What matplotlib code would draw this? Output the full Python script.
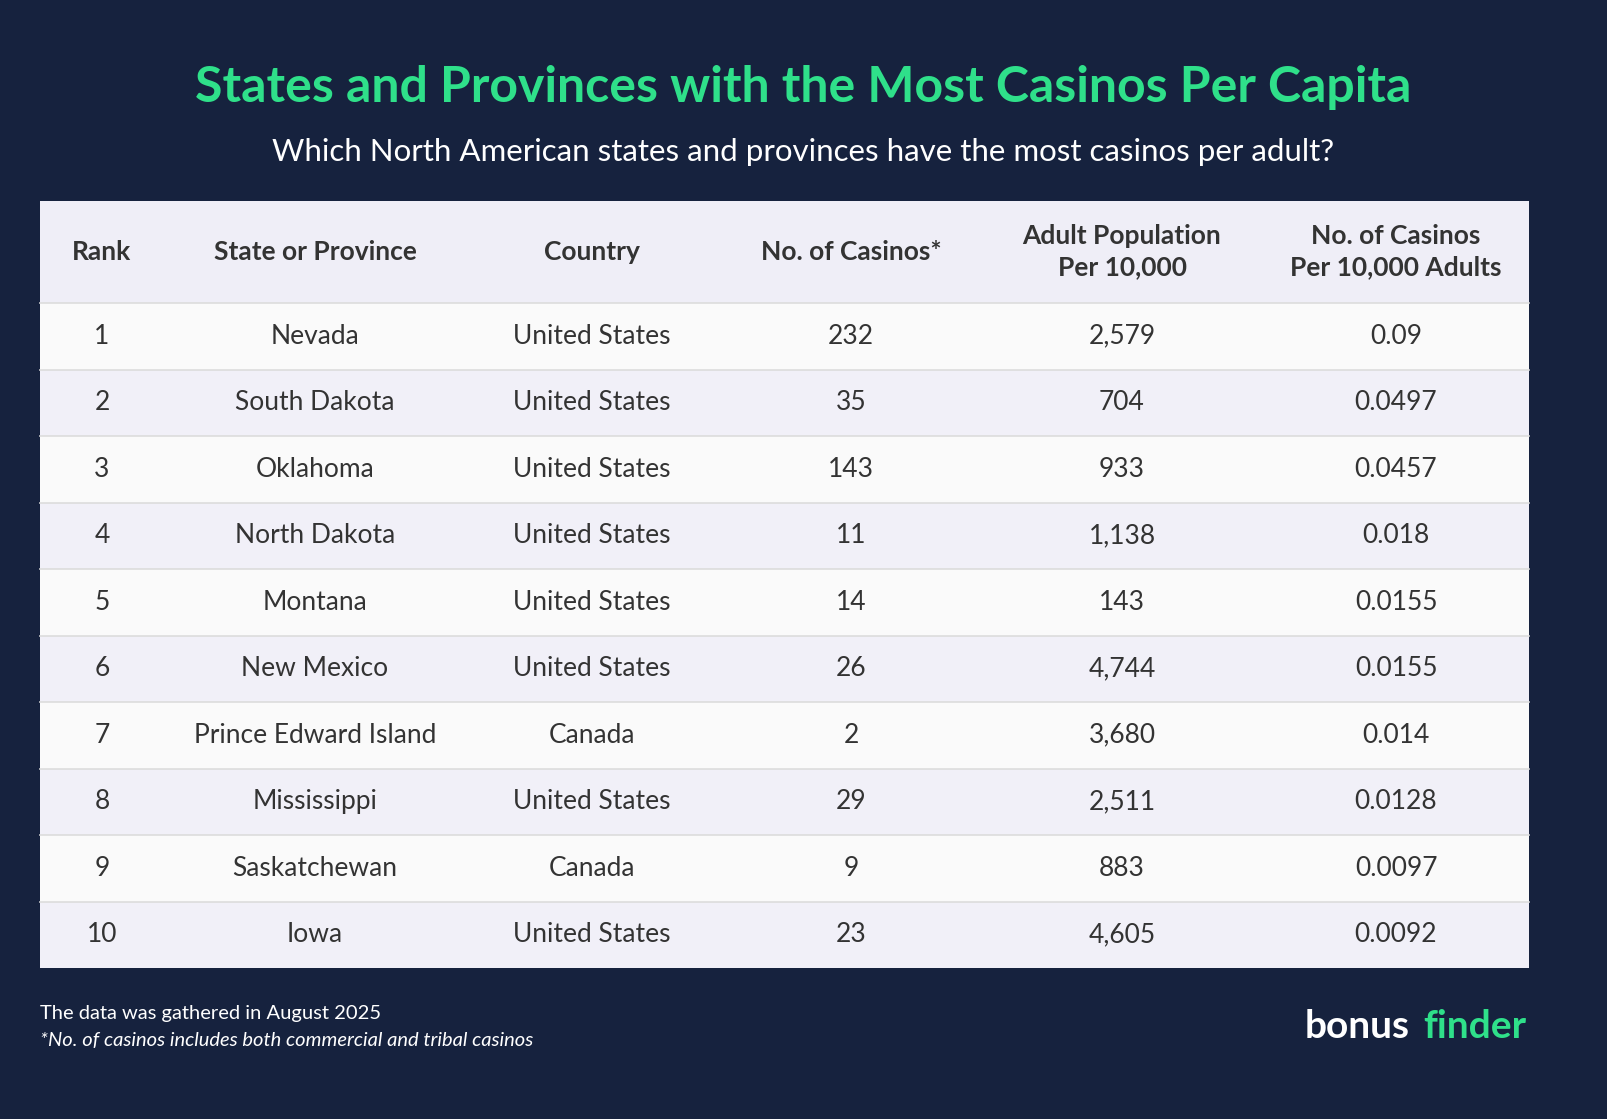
import matplotlib
matplotlib.use("Agg")
import matplotlib.pyplot as plt
from matplotlib.patches import Rectangle

ranks = ["1","2","3","4","5","6","7","8","9","10"]
states = ["Nevada","South Dakota","Oklahoma","North Dakota","Montana","New Mexico",
          "Prince Edward Island","Mississippi","Saskatchewan","Iowa"]
countries = ["United States"]*6 + ["Canada","United States","Canada","United States"]
casinos = ["232","35","143","11","14","26","2","29","9","23"]
adult_pop = ["2,579","704","933","1,138","143","4,744","3,680","2,511","883","4,605"]
per_10k = ["0.09","0.0497","0.0457","0.018","0.0155","0.0155","0.014","0.0128","0.0097","0.0092"]
headers = ["Rank","State or Province","Country","No. of Casinos*","Adult Population\nPer 10,000",
           "No. of Casinos\nPer 10,000 Adults"]

BG = "#16223e"; GREEN = "#2fe08a"; TXT = "#333333"
FONT = "Lato"
fig = plt.figure(figsize=(16.07, 11.19), dpi=100, facecolor=BG)
ax = fig.add_axes([0, 0, 1, 1]); ax.set_xlim(0, 1607); ax.set_ylim(1119, 0); ax.axis("off")

ax.text(803, 88, "States and Provinces with the Most Casinos Per Capita", color=GREEN,
        fontsize=36, fontweight="bold", ha="center", va="center", family=FONT)
ax.text(803, 152, "Which North American states and provinces have the most casinos per adult?",
        color="white", fontsize=22.5, ha="center", va="center", family=FONT)

x0, x1 = 40, 1529
hy0, hy1 = 201, 303
rh = 66.5
colx = [102, 315, 592, 851, 1122, 1396]
ax.add_patch(Rectangle((x0, hy0), x1-x0, hy1-hy0, color="#efeef7", lw=0))
for c, h in zip(colx, headers):
    ax.text(c, (hy0+hy1)/2, h, ha="center", va="center", fontsize=19, fontweight="bold",
            color=TXT, family=FONT, linespacing=1.35)
cols = [ranks, states, countries, casinos, adult_pop, per_10k]
for i in range(len(ranks)):
    y = hy1 + i*rh
    ax.add_patch(Rectangle((x0, y), x1-x0, rh, color="#fafafa" if i % 2 == 0 else "#f1f0f8", lw=0))
    ax.plot([x0, x1], [y, y], color="#dcdcdc", lw=1.2)
    for c, col in zip(colx, cols):
        ax.text(c, y+rh/2, col[i], ha="center", va="center", fontsize=19, color=TXT, family=FONT)

ax.text(40, 1013, "The data was gathered in August 2025", color="white", fontsize=14.5,
        va="center", family=FONT)
ax.text(40, 1041, "*No. of casinos includes both commercial and tribal casinos", color="white",
        fontsize=14.5, va="center", style="italic", family=FONT)
ax.text(1410, 1027, "bonus", color="white", fontsize=28, fontweight="bold",
        va="center", ha="right", family=FONT)
ax.text(1526, 1027, "finder", color=GREEN, fontsize=28, fontweight="bold",
        va="center", ha="right", family=FONT)
fig.savefig("out.png", dpi=100, facecolor=BG)
